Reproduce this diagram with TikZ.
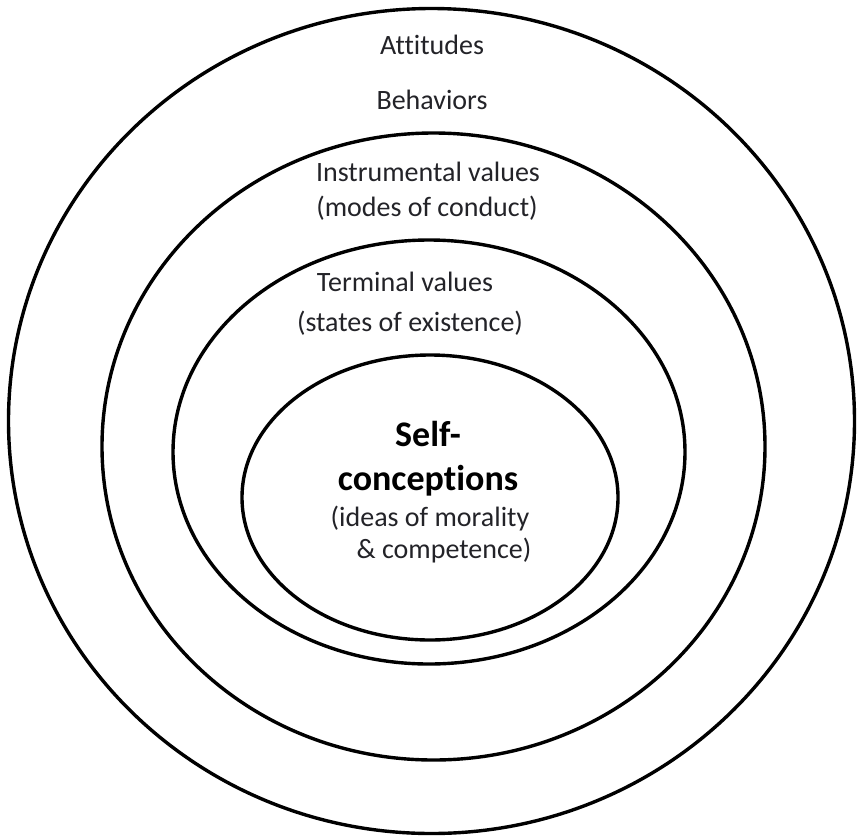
\documentclass[tikz,border=0pt]{standalone}
\usepackage{fontspec}
\setmainfont[Ligatures={NoCommon}]{Carlito}
\usetikzlibrary{shapes.geometric}
\definecolor{ink}{RGB}{35,35,40}
\begin{document}
\begin{tikzpicture}[x=1pt,y=-1pt,
  ring/.style={draw=black, line width=3.4pt, ellipse, inner sep=0pt},
  lbl/.style={anchor=base, inner sep=0pt, text=ink, font=\fontsize{28}{34}\selectfont},
  core/.style={anchor=base, inner sep=0pt, text=black, font=\bfseries\fontsize{36}{42}\selectfont}]
  \useasboundingbox (0,0) rectangle (857,839);
  \fill[white] (0,0) rectangle (857,839);

  % nested value rings, outermost first
  \node[ring, minimum width=846pt, minimum height=825pt] (outer) at (431.5,421) {};
  \node[ring, minimum width=663pt, minimum height=627pt] (instr) at (433.5,446.5) {};
  \node[ring, minimum width=512pt, minimum height=424pt] (term)  at (429,452) {};
  \node[ring, minimum width=376pt, minimum height=285pt] (self)  at (430,497.5) {};

  % outer ring
  \node[lbl] (att) at (432,54)  {Attitudes};
  \node[lbl] (beh) at (432,109) {Behaviors};
  % instrumental ring
  \node[lbl] (ins1) at (428,181) {Instrumental values};
  \node[lbl] (ins2) at (427,216) {(modes of conduct)};
  % terminal ring
  \node[lbl] (ter1) at (405,291) {Terminal values};
  \node[lbl] (ter2) at (410,331) {(states of existence)};
  % core
  \node[core] (sc1) at (428,446) {Self-};
  \node[core] (sc2) at (428,490) {conceptions};
  \node[lbl] (sc3) at (430,526) {(ideas of morality};
  \node[lbl] (sc4) at (444,558) {\&\ competence)};
\end{tikzpicture}
\end{document}
